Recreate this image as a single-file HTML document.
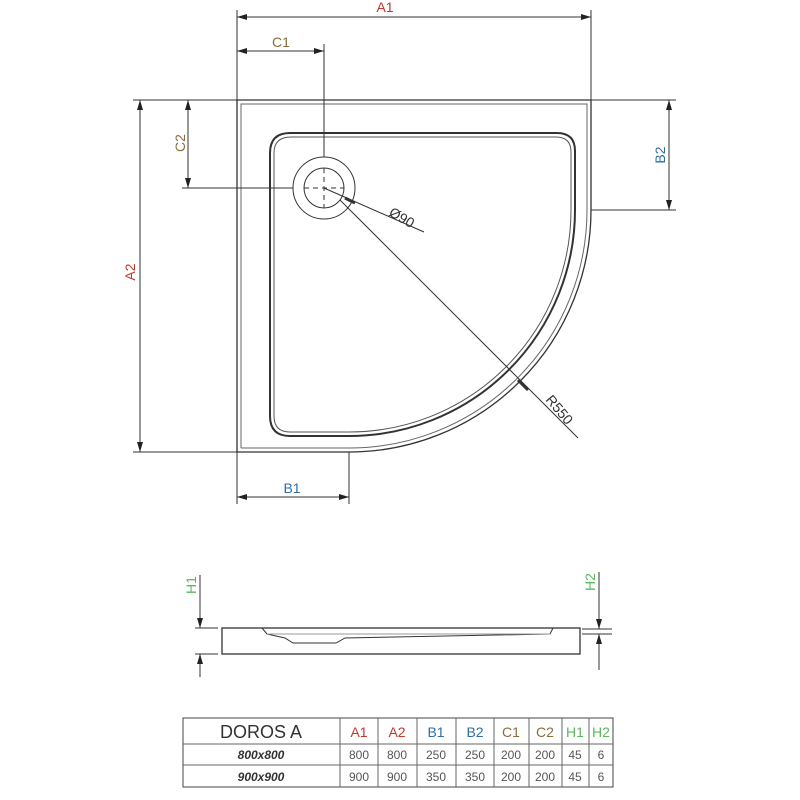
<!DOCTYPE html>
<html><head><meta charset="utf-8"><style>
html,body{margin:0;padding:0;background:#fff;width:800px;height:800px;overflow:hidden}
svg{display:block}
text{font-family:"Liberation Sans",sans-serif}
</style></head><body>
<svg width="800" height="800" viewBox="0 0 800 800" xmlns="http://www.w3.org/2000/svg">
<defs>
<marker id="ar" markerWidth="10" markerHeight="6" refX="10" refY="3" orient="auto-start-reverse" markerUnits="userSpaceOnUse"><path d="M0,0 L10,3 L0,6 z" fill="#222"/></marker>
</defs>
<g stroke="#333" stroke-width="1" fill="none">
<path d="M237,452 L237,100 L591,100 L591,210 A242,242 0 0 1 349,452 Z" stroke-width="1.3"/>
<path d="M241,448 L241,104 L587,104 L587,210 A238,238 0 0 1 349,448 L241,448" stroke="#666"/>
<path d="M290,133 L557,133 Q575,133 575,151 L575,210 A226,226 0 0 1 349,436 L290,436 Q270,436 270,416 L270,153 Q270,133 290,133 Z" stroke-width="2"/>
<path d="M291,137 L556,137 Q571,137 571,152 L571,210 A222,222 0 0 1 349,432 L290,432 Q274,432 274,416 L274,153 Q274,137 291,137" stroke="#555"/>
<circle cx="324" cy="188" r="31"/>
<circle cx="324" cy="188" r="20"/>
<path d="M304,188 H344 M324,168 V208" stroke-dasharray="5,4"/>
<line x1="324" y1="188" x2="424" y2="232"/>
<line x1="345" y1="198" x2="355" y2="203" stroke-width="3"/>
<line x1="340" y1="200" x2="578" y2="438"/>
<line x1="518" y1="380" x2="528" y2="390" stroke-width="3"/>
<line x1="237" y1="10" x2="237" y2="100"/>
<line x1="591" y1="10" x2="591" y2="100"/>
<line x1="237" y1="17" x2="591" y2="17" marker-start="url(#ar)" marker-end="url(#ar)"/>
<line x1="324" y1="44" x2="324" y2="157"/>
<line x1="237" y1="51" x2="324" y2="51" marker-start="url(#ar)" marker-end="url(#ar)"/>
<line x1="133" y1="100" x2="237" y2="100"/>
<line x1="133" y1="452" x2="349" y2="452"/>
<line x1="140" y1="100" x2="140" y2="452" marker-start="url(#ar)" marker-end="url(#ar)"/>
<line x1="182" y1="188" x2="293" y2="188"/>
<line x1="188" y1="100" x2="188" y2="188" marker-start="url(#ar)" marker-end="url(#ar)"/>
<line x1="591" y1="100" x2="676" y2="100"/>
<line x1="591" y1="210" x2="676" y2="210"/>
<line x1="669" y1="100" x2="669" y2="210" marker-start="url(#ar)" marker-end="url(#ar)"/>
<line x1="237" y1="452" x2="237" y2="504"/>
<line x1="349" y1="452" x2="349" y2="504"/>
<line x1="237" y1="497" x2="349" y2="497" marker-start="url(#ar)" marker-end="url(#ar)"/>
<rect x="222" y="628" width="358" height="26" stroke-width="1.3"/>
<path d="M262,628 L267,634 L285,638 L293,643 L336,643 L345,638 L550,634 L553,628" />
<path d="M267,634 L550,634" stroke="#999"/>
<line x1="195" y1="628" x2="218" y2="628"/>
<line x1="195" y1="654" x2="218" y2="654"/>
<line x1="200" y1="575" x2="200" y2="628" marker-end="url(#ar)"/>
<line x1="200" y1="677" x2="200" y2="654" marker-end="url(#ar)"/>
<line x1="582" y1="629" x2="612" y2="629"/>
<line x1="582" y1="634" x2="612" y2="634"/>
<line x1="599" y1="572" x2="599" y2="629" marker-end="url(#ar)"/>
<line x1="599" y1="670" x2="599" y2="634" marker-end="url(#ar)"/>
<rect x="183" y="718" width="430" height="69" stroke="#444"/>
<path d="M183,744 H613 M183,765 H613 M340,718 V787 M378,718 V787 M417,718 V787 M456,718 V787 M494,718 V787 M529,718 V787 M562,718 V787 M589,718 V787" stroke="#666"/>
</g>
<g font-size="14">
<text x="385" y="12" fill="#c0392b" text-anchor="middle">A1</text>
<text x="281" y="47" fill="#8a6d3b" text-anchor="middle">C1</text>
<text x="292" y="493" fill="#2e6da4" text-anchor="middle">B1</text>
<text transform="translate(135,272) rotate(-90)" fill="#c0392b" text-anchor="middle">A2</text>
<text transform="translate(185,143) rotate(-90)" fill="#8a6d3b" text-anchor="middle">C2</text>
<text transform="translate(665,155) rotate(-90)" fill="#2e6da4" text-anchor="middle">B2</text>
<text transform="translate(196,585) rotate(-90)" fill="#5cb85c" text-anchor="middle">H1</text>
<text transform="translate(595,582) rotate(-90)" fill="#5cb85c" text-anchor="middle">H2</text>
<text transform="translate(388,215) rotate(30)" fill="#333">Ø90</text>
<text transform="translate(545,400) rotate(50)" fill="#333">R550</text>
</g>
<g font-size="14" text-anchor="middle" fill="#555">
<text x="261" y="738" font-size="18" fill="#333">DOROS A</text>
<text x="359" y="737" fill="#c0392b">A1</text>
<text x="397" y="737" fill="#c0392b">A2</text>
<text x="436" y="737" fill="#2e6da4">B1</text>
<text x="475" y="737" fill="#2e6da4">B2</text>
<text x="511" y="737" fill="#8a6d3b">C1</text>
<text x="545" y="737" fill="#8a6d3b">C2</text>
<text x="575" y="737" fill="#5cb85c">H1</text>
<text x="601" y="737" fill="#5cb85c">H2</text>
<g font-size="12">
<text x="261" y="759" font-weight="bold" font-style="italic" fill="#333">800x800</text>
<text x="359" y="759">800</text><text x="397" y="759">800</text><text x="436" y="759">250</text><text x="475" y="759">250</text><text x="511" y="759">200</text><text x="545" y="759">200</text><text x="575" y="759">45</text><text x="601" y="759">6</text>
<text x="261" y="781" font-weight="bold" font-style="italic" fill="#333">900x900</text>
<text x="359" y="781">900</text><text x="397" y="781">900</text><text x="436" y="781">350</text><text x="475" y="781">350</text><text x="511" y="781">200</text><text x="545" y="781">200</text><text x="575" y="781">45</text><text x="601" y="781">6</text>
</g>
</g>
</svg>
</body></html>
